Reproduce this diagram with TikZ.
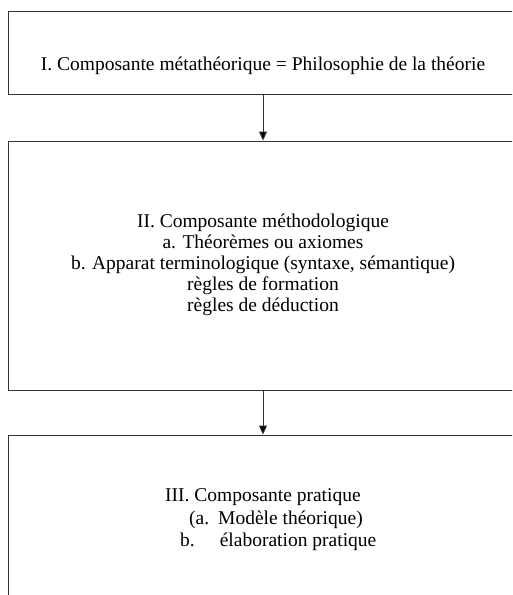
\documentclass[tikz,border=0pt]{standalone}
\usepackage{fontspec}
\setmainfont{Liberation Serif}
\usetikzlibrary{arrows.meta}
\newcommand{\txtfont}{\fontsize{19.5pt}{21pt}\selectfont}
\tikzset{
  box/.style={draw=black!80, line width=0.9pt, minimum width=510pt, inner sep=0pt},
  txt/.style={font=\txtfont, inner sep=0pt},
  link/.style={draw=black!80, line width=0.9pt,
               -{Triangle[length=9pt,width=8pt,fill=black]}}
}
\begin{document}
\begin{tikzpicture}[x=1pt, y=-1pt]
\useasboundingbox (0,0) rectangle (512,595); % keep page size
\clip (0,0) rectangle (512,595);
% the three boxes
\node (meta) [box, minimum height=83pt] at (263,52.5) {};
\node (method) [box, minimum height=249pt] at (263,265.5) {};
\node (practice) [box, minimum height=225pt] at (263,547.5) {};
% texts (base = last line)
\node (metatext) [txt, anchor=base] at (263,70)
  {I. Composante métathéorique = Philosophie de la théorie};
\node (methodtext) [txt, anchor=base, align=center] at (263,311)
  {II. Composante méthodologique\\
   a. Théorèmes ou axiomes\\
   b. Apparat terminologique (syntaxe, sémantique)\\
   règles de formation\\
   règles de déduction};
\node (practicetext) [txt, anchor=base west, align=left,
      font={\fontsize{19.5pt}{22.5pt}\selectfont}] at (165,546.7)
  {III. Composante pratique\\
   \hspace*{24pt}(a.\hspace{9pt}Modèle théorique)\\
   \hspace*{15pt}b.\hspace{25pt}élaboration pratique};
% arrows
\draw [link] (meta) -- (method);
\draw [link] (method) -- (practice);
\end{tikzpicture}
\end{document}
